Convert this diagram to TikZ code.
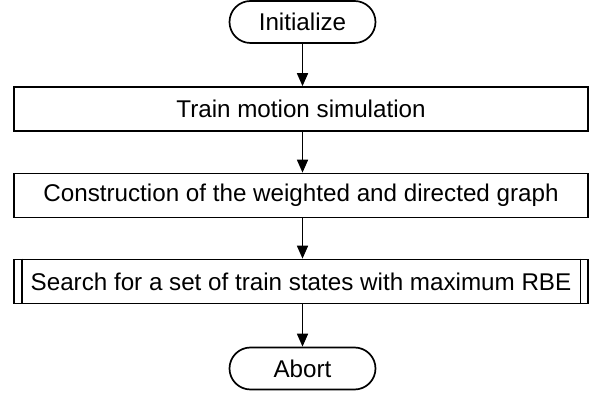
\documentclass[tikz,border=0pt]{standalone}
\usepackage{fontspec}
\setmainfont{Liberation Sans}
\usetikzlibrary{arrows.meta,shapes.misc}
\begin{document}
\begin{tikzpicture}[x=1pt,y=1pt,
  every node/.style={font=\fontsize{24.2}{28}\selectfont, inner sep=0pt, line width=1.7pt},
  terminal/.style={draw, rounded rectangle, minimum height=42, minimum width=146},
  process/.style={draw, rectangle, minimum height=44, minimum width=574},
  subproc/.style={process, append after command={
      \pgfextra{\let\subnode\tikzlastnode}
      ([xshift=8.5]\subnode.north west) edge[-, line width=1.7pt] ([xshift=8.5]\subnode.south west)
      ([xshift=-8.5]\subnode.north east) edge[-, line width=1.7pt] ([xshift=-8.5]\subnode.south east)}},
  flow/.style={line width=1.7pt, -{Triangle[length=13pt,width=11pt]}}]
\useasboundingbox (0,0) rectangle (597,396);
\node[terminal] (init) at (302.5,374) {Initialize};
\node[process] (sim) at (301,287) {Train motion simulation};
\node[process] (graph) at (301,200.5) {Construction of the weighted and directed graph};
\node[subproc] (search) at (301,114.5) {Search for a set of train states with maximum RBE};
\node[terminal] (abort) at (302.5,27.5) {Abort};
\draw[flow] (init.south) -- (init.south |- sim.north);
\draw[flow] (init.south |- sim.south) -- (init.south |- graph.north);
\draw[flow] (init.south |- graph.south) -- (init.south |- search.north);
\draw[flow] (init.south |- search.south) -- (abort.north);
\end{tikzpicture}
\end{document}
